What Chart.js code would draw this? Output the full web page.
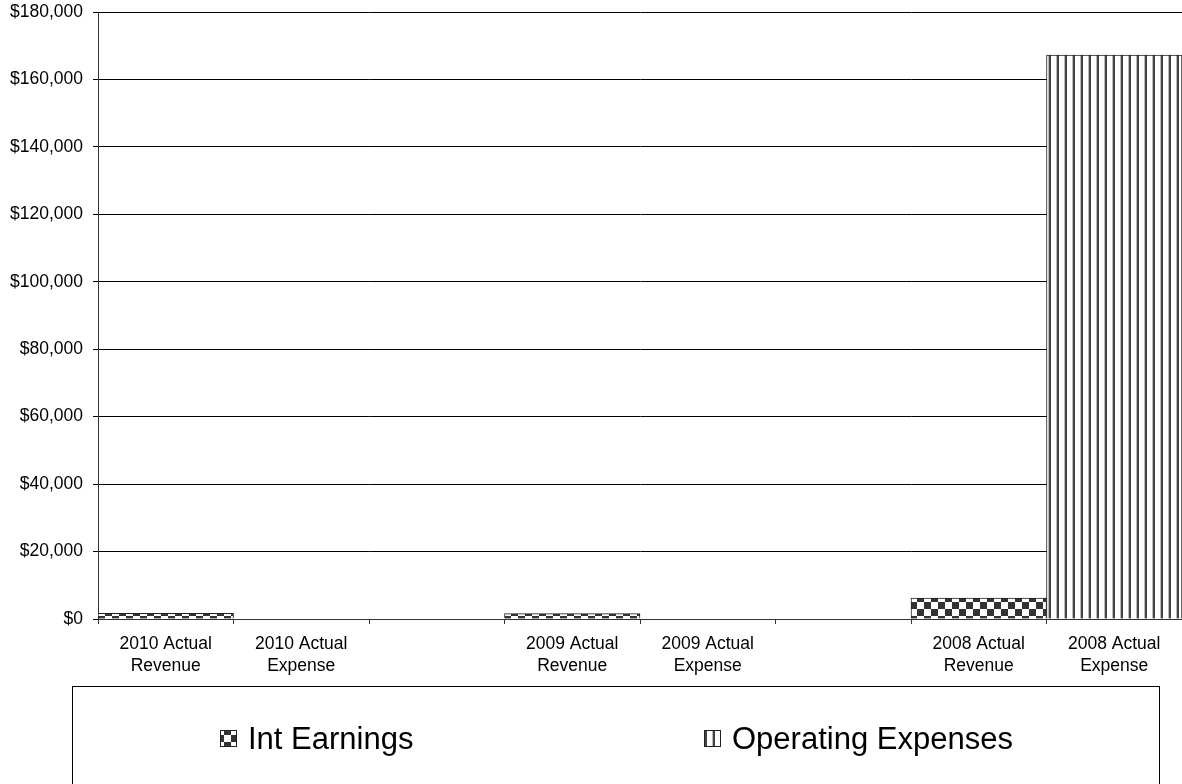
<!DOCTYPE html>
<html>
<head>
<meta charset="utf-8">
<script src="https://cdn.jsdelivr.net/npm/chart.js@4.4.1/dist/chart.umd.min.js"></script>
<style>
 body{margin:0;background:#fff;}
 #wrap{width:1182px;height:784px;}
</style>
</head>
<body>
<div id="wrap"><canvas id="chart_paper" width="1182" height="784"></canvas></div>
<script>
// chart data
var categories=[["2010 Actual","Revenue"],["2010 Actual","Expense"],"",["2009 Actual","Revenue"],["2009 Actual","Expense"],"",["2008 Actual","Revenue"],["2008 Actual","Expense"]];
var intEarnings=[1650,null,null,1600,null,null,6200,null];
var operatingExpenses=[null,0,null,null,0,null,null,167200];
var yMax=180000;
var yStep=20000;

function checkerPattern()
{
 var c=document.createElement("canvas");
 c.width=14;c.height=14;
 var g=c.getContext("2d");
 g.fillStyle="#ffffff";
 g.fillRect(0,0,14,14);
 g.fillStyle="#333333";
 g.fillRect(0,0,7,7);
 g.fillRect(7,7,7,7);
 return g.createPattern(c,"repeat");
}

function stripePattern()
{
 var c=document.createElement("canvas");
 c.width=8;c.height=8;
 var g=c.getContext("2d");
 g.fillStyle="#ffffff";
 g.fillRect(0,0,8,8);
 g.fillStyle="#bbbbbb";
 g.fillRect(0,0,1,8);
 g.fillStyle="#444444";
 g.fillRect(1,0,2,8);
 return g.createPattern(c,"repeat");
}

var checker=checkerPattern();
var stripes=stripePattern();

// legend drawn in a box under the chart
var legendBox={
 id:"legendBox",
 afterDraw:function(chart)
 {
  var ctx=chart.ctx;
  var ds=chart.data.datasets;
  ctx.save();
  ctx.strokeStyle="#000";
  ctx.lineWidth=1;
  ctx.strokeRect(72.5,686.5,1087,120);
  var boxes=[220,704];
  var texts=[248,732];
  ctx.font="31px 'Liberation Sans', Arial, sans-serif";
  ctx.textBaseline="middle";
  for(var i=0;i<ds.length;i++)
  {
   var x=boxes[i];
   ctx.fillStyle=ds[i].backgroundColor;
   ctx.fillRect(x,730,17,17);
   ctx.strokeStyle="#222";
   ctx.strokeRect(x+0.5,730.5,16,16);
   ctx.fillStyle="#000";
   ctx.fillText(ds[i].label,texts[i],740);
  }
  ctx.restore();
 }
};

var chartid=document.getElementById("chart_paper");
var chart_obj=new Chart(chartid,{
 type:'bar',
 data:
 {
  labels:categories,
  datasets:[{
    label:"Int Earnings",
    data:intEarnings,
    backgroundColor:checker,
    borderColor:"#222",
    borderWidth:1,
    categoryPercentage:1,
    barPercentage:1
   },{
    label:"Operating Expenses",
    data:operatingExpenses,
    backgroundColor:stripes,
    borderColor:"#222",
    borderWidth:1,
    categoryPercentage:1,
    barPercentage:1
   }]
 },
 options:
 {
  responsive:false,
  animation:false,
  layout:{padding:{top:12,right:0,left:0,bottom:0}},
  plugins:{legend:{display:false},tooltip:{enabled:false}},
  scales:
  {
   x:{
    stacked:true,
    afterFit:function(s){s.height=165;},
    grid:{display:true,drawOnChartArea:false,offset:true,tickLength:5,color:"#333"},
    border:{color:"#333"},
    ticks:{color:"#000",padding:9,maxRotation:0,autoSkip:false,font:{family:"'Liberation Sans', Arial, sans-serif",size:17.5,lineHeight:1.25}}
   },
   y:{
    stacked:true,
    min:0,
    max:yMax,
    afterFit:function(s){s.width=98;},
    grid:{color:"#000",tickLength:5},
    border:{color:"#333"},
    ticks:{stepSize:yStep,color:"#000",padding:10,font:{family:"'Liberation Sans', Arial, sans-serif",size:17.5,lineHeight:0.1},
     callback:function(v){return "$"+v.toLocaleString("en-US");}}
   }
  }
 },
 plugins:[legendBox]
});
</script>
</body>
</html>
